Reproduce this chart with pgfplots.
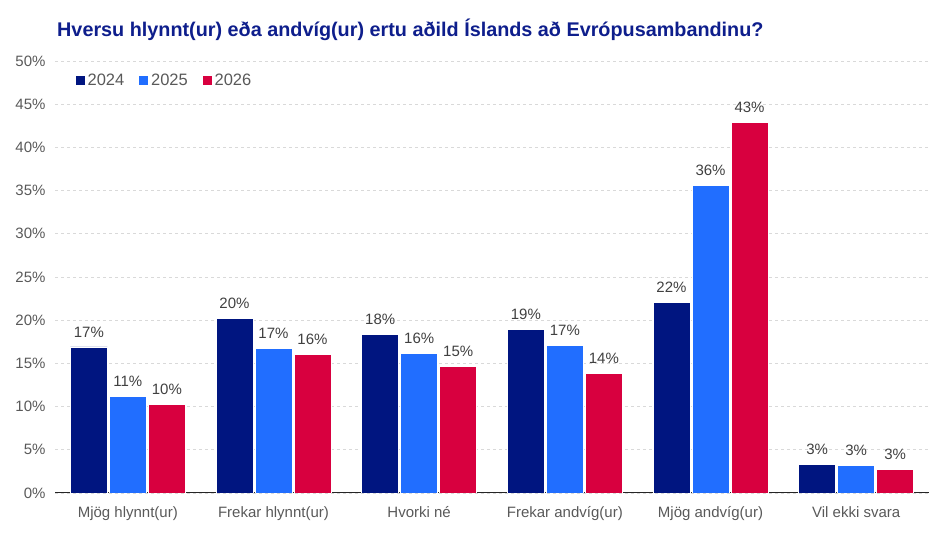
\documentclass[border=0pt]{standalone}
\usepackage{pgfplots}
\pgfplotsset{compat=1.18}
\usepackage{fontspec}
\setmainfont{Liberation Sans}
\definecolor{cA}{RGB}{0,21,128}
\definecolor{cB}{RGB}{33,110,255}
\definecolor{cC}{RGB}{216,0,63}
\definecolor{ctitle}{RGB}{14,30,140}
\definecolor{ctick}{RGB}{89,89,89}
\definecolor{clab}{RGB}{64,64,64}
\begin{document}
\begin{tikzpicture}
\path[use as bounding box] (0,0) rectangle (949pt,534pt);
\node[anchor=base west, text=ctitle, font=\fontsize{19.8}{22}\selectfont\bfseries, inner sep=0pt] at (57pt,497pt) {Hversu hlynnt(ur) eða andvíg(ur) ertu aðild Íslands að Evrópusambandinu?};
\begin{axis}[
  at={(55pt,41pt)}, anchor=south west,
  scale only axis, width=874pt, height=432pt,
  ymin=0, ymax=50, xmin=-0.5, xmax=5.5,
  ybar=2pt, bar width=37pt,
  axis y line*=left,
  axis x line*=bottom,
  y axis line style={draw=none},
  x axis line style={-, draw=black!85, line width=1pt},
  xtick={0,1,2,3,4,5},
  xticklabels={Mjög hlynnt(ur),Frekar hlynnt(ur),Hvorki né,Frekar andvíg(ur),Mjög andvíg(ur),Vil ekki svara},
  xtick style={draw=none},
  xticklabel style={text=ctick, font=\fontsize{15}{17}\selectfont, yshift=-6pt},
  ytick={0,5,...,50},
  yticklabels={0\%,5\%,10\%,15\%,20\%,25\%,30\%,35\%,40\%,45\%,50\%},
  ytick style={draw=none},
  yticklabel style={text=ctick, font=\fontsize{15}{17}\selectfont, xshift=-6pt},
  ymajorgrids,
  major grid style={dash pattern=on 3pt off 3pt, draw=black!15, line width=0.8pt},
  /pgf/number format/assume math mode=true,
  nodes near coords={\pgfmathprintnumber[fixed,precision=0]{\pgfplotspointmeta}\%},
  every node near coord/.append style={text=clab, font=\fontsize{15}{17}\selectfont, anchor=south, yshift=6pt},
  legend style={at={(0.019,0.954)}, anchor=west, draw=none, fill=none, legend columns=-1,
    font=\fontsize{16.5}{18}\selectfont, text=ctick,
    /tikz/every even column/.append style={column sep=12pt}},
  legend image code/.code={\fill[#1] (0pt,-5pt) rectangle (10pt,5pt);},
]
\addplot[fill=cA, draw=white, line width=0.8pt] coordinates {(0,16.9) (1,20.25) (2,18.4) (3,18.9) (4,22.1) (5,3.3)};
\addplot[fill=cB, draw=white, line width=0.8pt] coordinates {(0,11.2) (1,16.7) (2,16.2) (3,17.1) (4,35.6) (5,3.2)};
\addplot[fill=cC, draw=white, line width=0.8pt] coordinates {(0,10.2) (1,16.0) (2,14.6) (3,13.8) (4,42.9) (5,2.7)};
\legend{2024,2025,2026}
\end{axis}
\end{tikzpicture}
\end{document}
